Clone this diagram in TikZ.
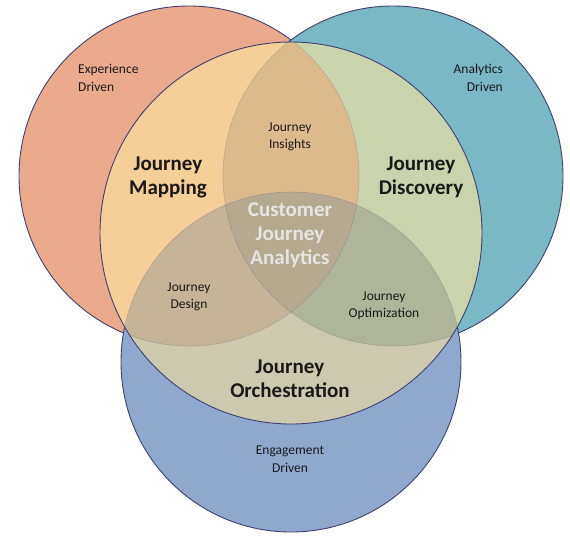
\documentclass[tikz,border=0pt]{standalone}
\usepackage{fontspec}
\setmainfont{Carlito}
\usepackage{xcolor}
\definecolor{expfill}{HTML}{EBAA8C}
\definecolor{anafill}{HTML}{7AB8C6}
\definecolor{engfill}{HTML}{90A8CE}
\definecolor{mapfill}{HTML}{F5CE98}
\definecolor{discfill}{HTML}{C9D4AC}
\definecolor{orchfill}{HTML}{CDC9B0}
\definecolor{insfill}{HTML}{DDBA8C}
\definecolor{desfill}{HTML}{C5B495}
\definecolor{optfill}{HTML}{AEB59B}
\definecolor{cjafill}{HTML}{B5A990}
\definecolor{rimline}{HTML}{404070}
\tikzset{
  smalltxt/.style={inner sep=0pt, text=black!90, font=\fontsize{13.5}{17.5}\selectfont},
  bigtxt/.style={inner sep=0pt, align=center, text=black!90, font=\fontsize{21}{24}\selectfont\bfseries},
  rim/.style={draw=rimline, line width=0.9pt},
  innerrim/.style={draw=rimline, draw opacity=0.2, line width=0.6pt},
}

\begin{document}
\begin{tikzpicture}[x=1pt,y=-1pt]
      \useasboundingbox (0,0) rectangle (570,536);
      \coordinate (exp) at (189,176);
      \coordinate (ana) at (393,176);
      \coordinate (eng) at (291,362);
      \coordinate (big) at (291,233);
      % outer circles
      \filldraw[fill=expfill,rim] (exp) circle[radius=170pt];
      \filldraw[fill=anafill,rim] (ana) circle[radius=170pt];
      \filldraw[fill=engfill,rim] (eng) circle[radius=170pt];
      % inside the big circle
      \begin{scope}
        \clip (big) circle[radius=191pt];
        \fill[mapfill] (exp) circle[radius=170pt];
        \fill[discfill] (ana) circle[radius=170pt];
        \fill[orchfill] (eng) circle[radius=170pt];
        \begin{scope}
          \clip (exp) circle[radius=170pt];
          \fill[insfill] (ana) circle[radius=170pt];
          \fill[desfill] (eng) circle[radius=170pt];
        \end{scope}
        \begin{scope}
          \clip (ana) circle[radius=170pt];
          \fill[optfill] (eng) circle[radius=170pt];
        \end{scope}
        \begin{scope}
          \clip (exp) circle[radius=170pt];
          \clip (ana) circle[radius=170pt];
          \fill[cjafill] (eng) circle[radius=170pt];
        \end{scope}
        \draw[innerrim] (exp) circle[radius=170pt];
        \draw[innerrim] (ana) circle[radius=170pt];
        \draw[innerrim] (eng) circle[radius=170pt];
      \end{scope}
      \draw[rim] (big) circle[radius=191pt];
      % labels
      \node[smalltxt,align=left,anchor=west] (expl) at (78,78) {Experience\\Driven};
      \node[smalltxt,align=right,anchor=east] (anal) at (503,78) {Analytics\\Driven};
      \node[smalltxt,align=center] (engl) at (290,459) {Engagement\\Driven};
      \node[bigtxt] (mapl) at (168,177) {Journey\\Mapping};
      \node[bigtxt] (discl) at (421,177) {Journey\\Discovery};
      \node[bigtxt] (orchl) at (290,379) {Journey\\Orchestration};
      \node[smalltxt,align=center] (insl) at (290,137) {Journey\\Insights};
      \node[smalltxt,align=center] (desl) at (189,297) {Journey\\Design};
      \node[smalltxt,align=center] (optl) at (384,306) {Journey\\Optimization};
      \node[bigtxt,text=black!10] (cjal) at (290,235) {Customer\\Journey\\Analytics};
\end{tikzpicture}
\end{document}
